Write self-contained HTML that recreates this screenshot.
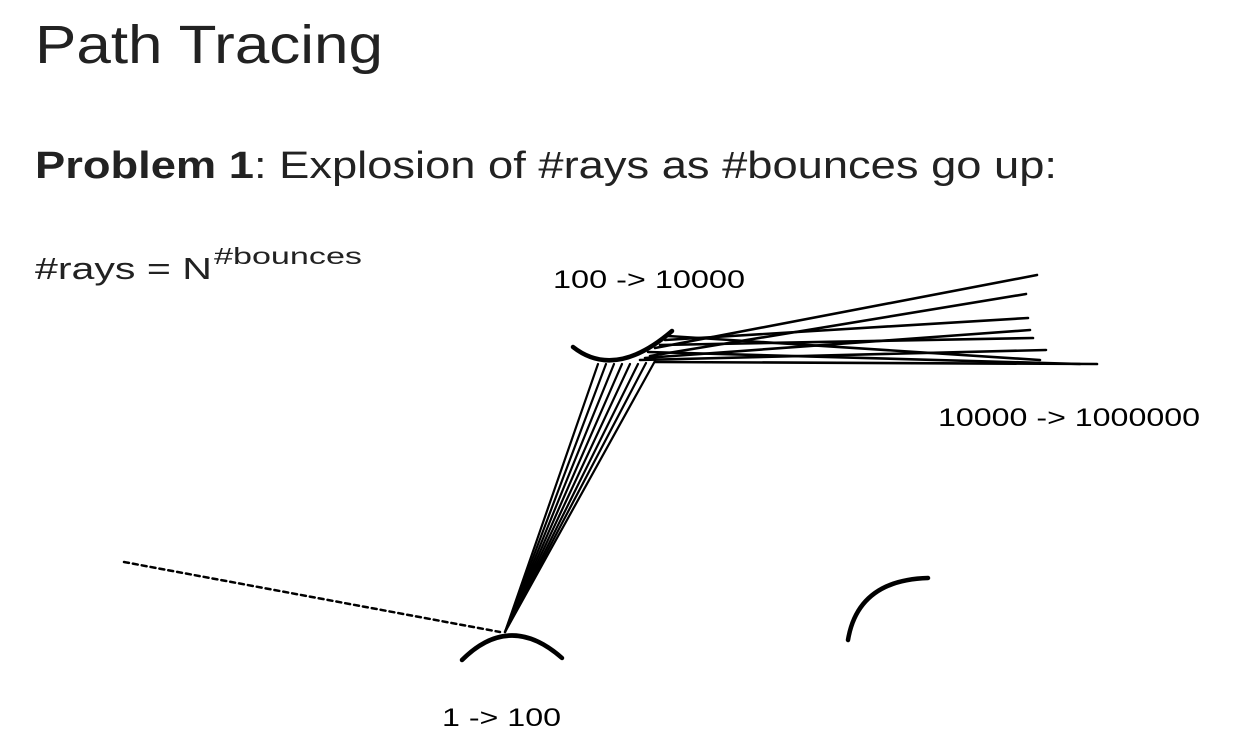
<!DOCTYPE html>
<html><head><meta charset="utf-8"><style>
body{margin:0;width:1240px;height:754px;background:#fff;overflow:hidden;font-family:"Liberation Sans",sans-serif;color:#111}
svg{position:absolute;left:0;top:0}
</style></head><body>
<svg width="1240" height="754">
<text x="35" y="63" font-size="54" fill="#222" textLength="348" lengthAdjust="spacingAndGlyphs">Path Tracing</text>
<text x="35" y="178" font-size="38" fill="#222" textLength="1022" lengthAdjust="spacingAndGlyphs"><tspan font-weight="bold">Problem 1</tspan>: Explosion of #rays as #bounces go up:</text>
<text x="35" y="279" font-size="31" fill="#222" textLength="177" lengthAdjust="spacingAndGlyphs">#rays = N</text>
<text x="214" y="264" font-size="23" fill="#222" textLength="148" lengthAdjust="spacingAndGlyphs">#bounces</text>
<text x="553" y="288" font-size="25" textLength="192" lengthAdjust="spacingAndGlyphs">100 -&gt; 10000</text>
<text x="938" y="426" font-size="25" textLength="262" lengthAdjust="spacingAndGlyphs">10000 -&gt; 1000000</text>
<text x="442" y="726" font-size="25" textLength="119" lengthAdjust="spacingAndGlyphs">1 -&gt; 100</text>
<g fill="none" stroke="#000" stroke-linecap="round">
<line x1="124" y1="562" x2="500" y2="632" stroke-width="2.5" stroke-dasharray="5,4"/>
<path d="M462 660 Q510 612 562 658" stroke-width="4.5"/>
<path d="M573 347 Q615 380 672 331" stroke-width="4.5"/>
<path d="M848 640 Q858 580 928 578" stroke-width="4.5"/>
<g stroke-width="2.2">
<line x1="505" y1="632" x2="598" y2="364"/><line x1="505" y1="632" x2="606" y2="364"/>
<line x1="505" y1="632" x2="614" y2="364"/><line x1="505" y1="632" x2="622" y2="364"/>
<line x1="505" y1="632" x2="630" y2="364"/><line x1="505" y1="632" x2="638" y2="364"/>
<line x1="505" y1="632" x2="646" y2="363"/><line x1="505" y1="632" x2="655" y2="361"/>
</g>
<g stroke-width="2.6">
<line x1="655" y1="348" x2="1037" y2="275"/><line x1="650" y1="356" x2="1026" y2="294"/>
<line x1="665" y1="340" x2="1028" y2="318"/><line x1="645" y1="358" x2="1030" y2="330"/>
<line x1="660" y1="345" x2="1033" y2="338"/><line x1="640" y1="360" x2="1046" y2="350"/>
<line x1="655" y1="362" x2="1097" y2="364"/><line x1="668" y1="336" x2="1040" y2="360"/>
<line x1="648" y1="352" x2="1080" y2="364"/>
</g>
</g>
</svg>
</body></html>
